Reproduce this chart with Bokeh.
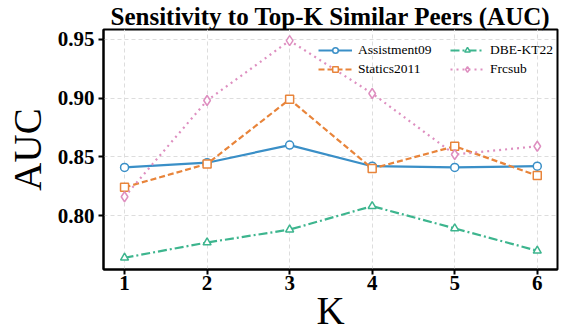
from bokeh.plotting import figure
from bokeh.models import Legend, LegendItem, Range1d, FixedTicker, Title, CustomJSTickFormatter
from bokeh.embed import file_html
from bokeh.resources import INLINE

K = [1, 2, 3, 4, 5, 6]
assist09 = [0.841, 0.845, 0.860, 0.842, 0.841, 0.842]
statics2011 = [0.824, 0.844, 0.899, 0.840, 0.859, 0.834]
dbe_kt22 = [0.764, 0.777, 0.788, 0.808, 0.789, 0.770]
frcsub = [0.816, 0.898, 0.949, 0.904, 0.852, 0.859]
y_ticks = [0.80, 0.85, 0.90, 0.95]
names = ["Assistment09", "Statics2011", "DBE-KT22", "Frcsub"]

FONT = "Liberation Serif"

p = figure(width=564, height=334, output_backend="svg", toolbar_location=None,
           x_range=Range1d(0.745, 6.245), y_range=Range1d(0.754, 0.9585),
           min_border_left=103, min_border_right=7, min_border_top=29, min_border_bottom=65)

p.title = Title(text="Sensitivity to Top-K Similar Peers (AUC)", align="center",
                text_font=FONT, text_font_size="25px", text_font_style="bold",
                standoff=0, offset=0, text_color="black")

series = [
    (names[0], assist09, "#3A8FC7", "solid", "circle"),
    (names[1], statics2011, "#E8843A", "6 3", "square"),
    (names[2], dbe_kt22, "#3DB58E", "9 3 2 3", "triangle"),
    (names[3], frcsub, "#DE8FC0", "2 4", "diamond"),
]
items = []
for name, ys, color, dash, marker in series:
    l = p.line(K, ys, line_color=color, line_width=2.2, line_dash=dash)
    size = 10 if marker == "diamond" else 8
    m = p.scatter(K, ys, marker=marker, size=size, line_color=color, line_width=1.5,
                  fill_color="white")
    items.append(LegendItem(label=name, renderers=[l, m]))

legend_style = dict(
    background_fill_alpha=0, border_line_alpha=0,
    label_text_font=FONT, label_text_font_size="13.5px", label_text_color="black",
    glyph_width=34, label_height=14, glyph_height=14, spacing=3, padding=2,
    margin=0, label_standoff=6,
)
leg1 = Legend(items=items[:2], location=(213, 190), **legend_style)
leg2 = Legend(items=items[2:], location=(345, 190), **legend_style)
p.add_layout(leg1, "center")
p.add_layout(leg2, "center")

p.xaxis.ticker = FixedTicker(ticks=K)
p.yaxis.ticker = FixedTicker(ticks=y_ticks)
p.yaxis.formatter = CustomJSTickFormatter(code="return tick.toFixed(2);")

p.xaxis.axis_label = "K"
p.yaxis.axis_label = "AUC"
for ax in (p.xaxis[0], p.yaxis[0]):
    ax.axis_label_text_font = FONT
    ax.axis_label_text_font_size = "39px"
    ax.axis_label_text_font_style = "normal"
    ax.axis_label_text_color = "black"
    ax.major_label_text_font = FONT
    ax.major_label_text_font_size = "21px"
    ax.major_label_text_font_style = "bold"
    ax.major_label_text_color = "black"
    ax.axis_line_width = 2
    ax.axis_line_color = "black"
    ax.major_tick_line_width = 2
    ax.major_tick_out = 5
    ax.major_tick_in = 0
    ax.minor_tick_line_color = None
p.xaxis.axis_label_standoff = -4
p.yaxis.axis_label_standoff = 6
p.xaxis.major_label_standoff = 1
p.yaxis.major_label_standoff = 4

p.xgrid.grid_line_dash = "4 3"
p.ygrid.grid_line_dash = "4 3"
p.xgrid.grid_line_color = "#dddddd"
p.ygrid.grid_line_color = "#dddddd"
p.outline_line_color = "black"
p.outline_line_width = 2
p.outline_line_alpha = 1

open("out.html", "w").write(file_html(p, INLINE))
